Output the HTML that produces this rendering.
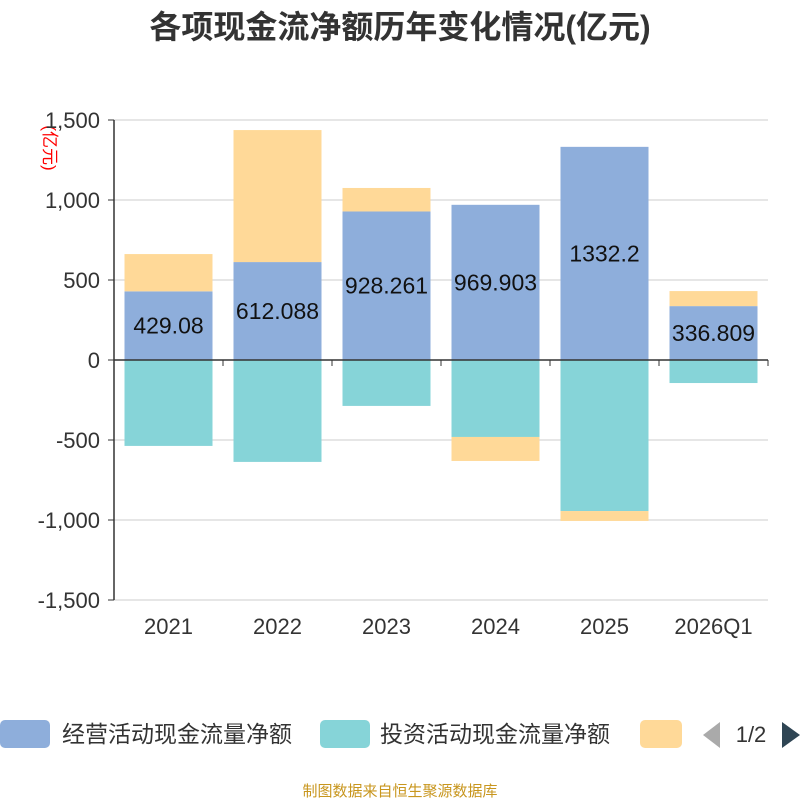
<!DOCTYPE html>
<html><head><meta charset="utf-8"><style>
body{margin:0;background:#fff;}
svg{display:block;font-family:"Liberation Sans","Noto Sans CJK SC",sans-serif;}
</style></head><body>
<svg id="chart" width="800" height="800" xmlns="http://www.w3.org/2000/svg">
<text x="400" y="38" text-anchor="middle" font-size="32" font-weight="bold" fill="#333">各项现金流净额历年变化情况(亿元)</text>
<text transform="translate(44,148) rotate(90)" text-anchor="middle" font-size="17" fill="#ff0000">(亿元)</text>
<g id="grid"></g><g id="bars"></g><g id="axes"></g>
<g>
<rect x="0" y="720" width="50" height="28" rx="5" fill="#8eaedb"/>
<text x="62" y="742" font-size="23" fill="#333">经营活动现金流量净额</text>
<rect x="320" y="720" width="50" height="28" rx="5" fill="#86d4d8"/>
<text x="380" y="742" font-size="23" fill="#333">投资活动现金流量净额</text>
<rect x="640" y="720" width="42" height="28" rx="5" fill="#ffd998"/>
<polygon points="720,722 720,748 703,735" fill="#aaa"/>
<text x="751" y="742" text-anchor="middle" font-size="22" fill="#333">1/2</text>
<polygon points="782,722 782,748 800,735" fill="#2f4554"/>
</g>
<text x="400" y="796" text-anchor="middle" font-size="15" fill="#c8961e">制图数据来自恒生聚源数据库</text>
</svg>
<script>
const categories=["2021","2022","2023","2024","2025","2026Q1"];
const operating=[429.08,612.088,928.261,969.903,1332.2,336.809];
const investing=[-537,-637,-287,-481,-944,-144];
const financing=[233,825,147,-150,-62,94];
const yTicks=[-1500,-1000,-500,0,500,1000,1500];
const yTickLabels=["-1,500","-1,000","-500","0","500","1,000","1,500"];
const NS="http://www.w3.org/2000/svg";
const X0=114,X1=768,Y0=360,K=0.16;
const bw=(X1-X0)/categories.length;
function y(v){return Y0-v*K;}
function xc(i){return X0+bw*(i+0.5);}
function mk(parent,tag,attrs){const e=document.createElementNS(NS,tag);for(const k in attrs)e.setAttribute(k,attrs[k]);document.getElementById(parent).appendChild(e);return e;}
yTicks.forEach((t,i)=>{
  if(t!==0){const l=mk('grid','line',{x1:X0,x2:X1,y1:y(t),y2:y(t),stroke:'#ccc','stroke-width':1});
  
  }
  const tk=mk('axes','line',{x1:X0-6,x2:X0,y1:y(t),y2:y(t),stroke:'#333'});
  
  
  const tx=mk('axes','text',{x:X0-14,y:y(t)+8,'text-anchor':'end','font-size':22,fill:'#333'});
  tx.textContent=yTickLabels[i];
  
  
});
const W=88;
categories.forEach((c,i)=>{
  const x=xc(i)-W/2;
  let pos=0,neg=0;
  const series=[[operating[i],'#8eaedb','bar-operating'],[investing[i],'#86d4d8','bar-investing'],[financing[i],'#ffd998','bar-financing']];
  series.forEach(s=>{
    const v=s[0];let top,bot;
    if(v>=0){top=y(pos+v);bot=y(pos);pos+=v;}else{top=y(neg);bot=y(neg+v);neg+=v;}
    const r=mk('bars','rect',{x:x,y:top,width:W,height:bot-top,fill:s[1]});
    
    
  });
  const lt=mk('bars','text',{x:xc(i),y:(y(operating[i])+Y0)/2+8,'text-anchor':'middle','font-size':23,fill:'#111'});
  lt.textContent=String(operating[i]);
  
  
  const xl=mk('axes','text',{x:xc(i),y:634,'text-anchor':'middle','font-size':22,fill:'#333'});
  xl.textContent=c;
  
  
});
for(let i=0;i<=categories.length;i++){
  const t=mk('axes','line',{x1:X0+bw*i,x2:X0+bw*i,y1:Y0,y2:Y0+6,stroke:'#333'});
  
  
}
const xa=mk('axes','line',{x1:X0,x2:X1,y1:Y0,y2:Y0,stroke:'#333','stroke-width':1.5});


const ya=mk('axes','line',{x1:X0,x2:X0,y1:y(1500),y2:y(-1500),stroke:'#333','stroke-width':1.5});


</script>
</body></html>
